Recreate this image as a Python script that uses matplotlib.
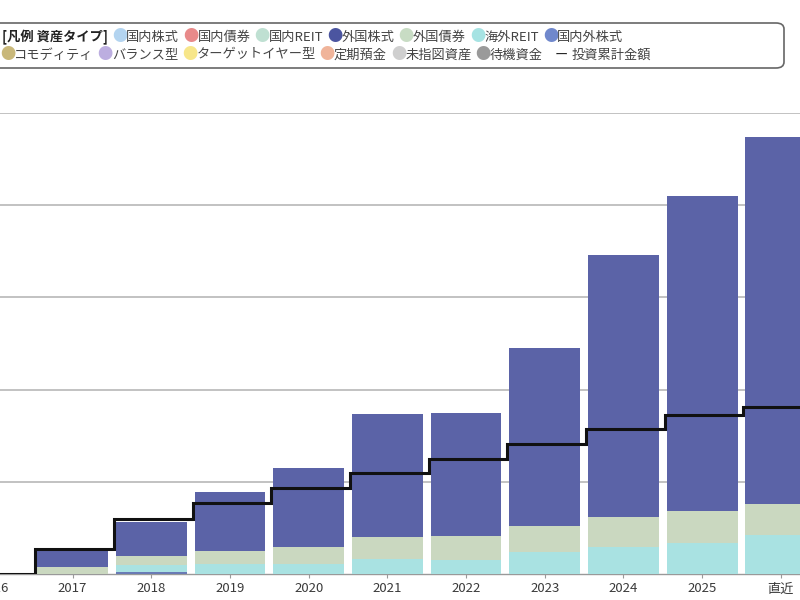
import matplotlib
matplotlib.use("Agg")
import matplotlib.pyplot as plt
from matplotlib.patches import FancyBboxPatch
import numpy as np

plt.rcParams["font.family"] = ["Noto Sans CJK JP", "DejaVu Sans"]

# ── data (万円) ────────────────────────────────────────────────────────────
categories   = ["2016", "2017", "2018", "2019", "2020", "2021",
                "2022", "2023", "2024", "2025", "直近"]
naigai_stock = [0, 0, 2.5, 0, 0, 0, 0, 0, 0, 0, 0]
kaigai_reit  = [0, 0, 7.3, 10.8, 10.5, 16.6, 15.2, 23.5, 29.6, 33.9, 42.3]
gaikoku_bond = [0, 7.9, 10.1, 14.4, 19.1, 23.5, 26.0, 28.5, 31.9, 34.1, 33.6]
gaikoku_stk  = [0, 17.4, 36.9, 64.0, 85.0, 133.1, 133.1, 193.4, 284.5, 342.0, 398.4]
invested     = [0, 27.1, 59.3, 77.3, 93.0, 109.5, 124.7, 140.7, 157.0, 172.8, 180.8]

legend_row1 = [("国内株式", "#b3d4f0"), ("国内債券", "#e88a8a"), ("国内REIT", "#bfe0d2"),
               ("外国株式", "#4b55a0"), ("外国債券", "#c8dcc4"), ("海外REIT", "#a6e3e3"),
               ("国内外株式", "#7088cc")]
legend_row2 = [("コモディティ", "#c9b87a"), ("バランス型", "#bcaee0"),
               ("ターゲットイヤー型", "#f7e68a"), ("定期預金", "#f0b49a"),
               ("未指図資産", "#cfcfcf"), ("待機資金", "#9a9a9a")]

# ── style ──────────────────────────────────────────────────────────────────
BAR_COLORS = {
    "国内外株式": "#6a7bb5",
    "海外REIT":  "#a9e2e2",
    "外国債券":  "#cad8c0",
    "外国株式":  "#5b63a7",
}
TEXT = "#444444"
GRID = "#bdbdbd"

fig = plt.figure(figsize=(8, 6), dpi=100)
ax = fig.add_axes([-0.0569, 0.0433, 1.0821, 0.7683])

x = np.arange(len(categories))
bottom = np.zeros(len(categories))
for name, vals in [("国内外株式", naigai_stock), ("海外REIT", kaigai_reit),
                   ("外国債券", gaikoku_bond), ("外国株式", gaikoku_stk)]:
    vals = np.array(vals)
    ax.bar(x, vals, width=0.9, bottom=bottom, color=BAR_COLORS[name],
           linewidth=0, zorder=3)
    bottom += vals

# cumulative invested amount, stepping up just before each bar
step_x = np.concatenate([[-0.5], x[1:] - 0.475, [len(categories) - 0.5]])
step_y = invested + [invested[-1]]
ax.plot(step_x, step_y, drawstyle="steps-post", color="#111111",
        linewidth=2.2, zorder=5, solid_joinstyle="miter")

ax.set_xlim(-0.5, len(categories) - 0.5)
ax.set_ylim(0, 500)
ax.set_yticks([100, 200, 300, 400, 500])
ax.set_yticklabels([])
ax.tick_params(axis="y", length=0)
ax.grid(axis="y", color=GRID, linewidth=1.3, zorder=0)
ax.set_xticks(x)
ax.set_xticklabels(categories, fontsize=9.5, color="#3a3a3a")
ax.tick_params(axis="x", length=3, color="#999999", pad=3)
for s in ["left", "right", "top"]:
    ax.spines[s].set_visible(False)
ax.spines["bottom"].set_color("#999999")
ax.spines["bottom"].set_linewidth(1.0)

# ── legend box (drawn by hand, flowing left to right) ──────────────────────
W, H = 800, 600
box = FancyBboxPatch((-20 / W, 1 - 68 / H), 804 / W, 45 / H,
                     boxstyle="round,pad=0,rounding_size=0.01",
                     transform=fig.transFigure, facecolor="white",
                     edgecolor="#666666", linewidth=1.2, zorder=10)
fig.add_artist(box)

renderer = fig.canvas.get_renderer()


def put(xpx, ypx, s, **kw):
    t = fig.text(xpx / W, 1 - ypx / H, s, va="center", ha="left", zorder=11, **kw)
    return t.get_window_extent(renderer).x1


FS = 9.5
xp = put(2, 37, "[凡例 資産タイプ]", fontsize=FS, fontweight="bold", color="#222222")
xp += 4
for label, col in legend_row1:
    xp = put(xp, 37, "●", fontsize=11, color=col) - 1
    xp = put(xp, 37, label, fontsize=FS, color=TEXT) + 4

xp = 0
for label, col in legend_row2:
    xp = put(xp, 55, "●", fontsize=11, color=col) - 1
    xp = put(xp, 55, label, fontsize=FS, color=TEXT) + 4
xp += 8
xp = put(xp, 55, "ー", fontsize=FS, color="#222222") + 4
put(xp, 55, "投資累計金額", fontsize=FS, color=TEXT)

fig.savefig("out.png", dpi=100)
